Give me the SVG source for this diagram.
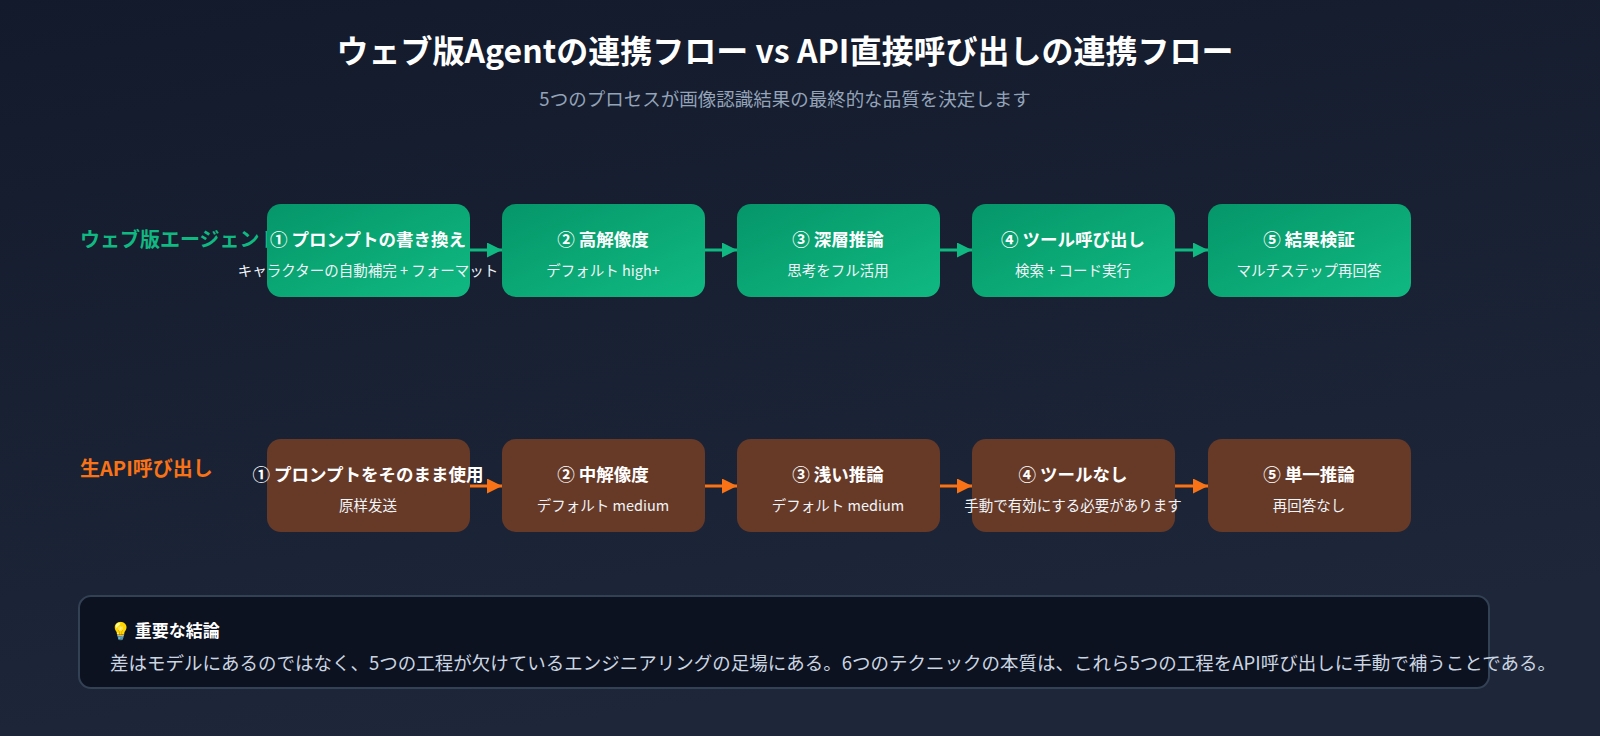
<svg xmlns="http://www.w3.org/2000/svg" width="1600" height="736" viewBox="0 0 1600 736">
<defs>
<linearGradient id="bg" x1="0" y1="0" x2="0.3" y2="1"><stop offset="0" stop-color="#121a2c"/><stop offset="1" stop-color="#1e2739"/></linearGradient>
<linearGradient id="gr" x1="0" y1="0" x2="1" y2="1"><stop offset="0" stop-color="#059669"/><stop offset="1" stop-color="#10b981"/></linearGradient>
<marker id="ag" viewBox="0 0 10 10" refX="10" refY="5" markerWidth="5" markerHeight="5" orient="auto"><path d="M0,0L10,5L0,10z" fill="#10b981"/></marker>
<marker id="ao" viewBox="0 0 10 10" refX="10" refY="5" markerWidth="5" markerHeight="5" orient="auto"><path d="M0,0L10,5L0,10z" fill="#f97316"/></marker>
<style>
text{font-family:"Noto Sans CJK JP","Liberation Sans",sans-serif;}
.g{fill:url(#gr);}
.b{fill:#673a28;}
.t{fill:#fff;font-size:17.5px;font-weight:bold;text-anchor:middle;}
.s{fill:#f1f5f9;font-size:14.5px;text-anchor:middle;}
.lg{stroke:#10b981;stroke-width:3;marker-end:url(#ag);}
.lo{stroke:#f97316;stroke-width:3;marker-end:url(#ao);}
</style>
</defs>
<rect width="1600" height="736" fill="url(#bg)"/>
<text x="785" y="63" fill="#fff" font-size="32" font-weight="bold" text-anchor="middle">ウェブ版Agentの連携フロー vs API直接呼び出しの連携フロー</text>
<text x="785" y="106" fill="#94a3b8" font-size="18.5" text-anchor="middle">5つのプロセスが画像認識結果の最終的な品質を決定します</text>
<text x="80" y="247" fill="#10b981" font-size="20" font-weight="bold">ウェブ版エージェント</text>
<text x="80" y="476" fill="#f97316" font-size="20" font-weight="bold">生API呼び出し</text>
<g id="connectors">
<line class="lg" x1="470" y1="250" x2="502" y2="250"/>
<line class="lg" x1="705" y1="250" x2="737" y2="250"/>
<line class="lg" x1="940" y1="250" x2="972" y2="250"/>
<line class="lg" x1="1175" y1="250" x2="1208" y2="250"/>
<line class="lo" x1="470" y1="486" x2="502" y2="486"/>
<line class="lo" x1="705" y1="486" x2="737" y2="486"/>
<line class="lo" x1="940" y1="486" x2="972" y2="486"/>
<line class="lo" x1="1175" y1="486" x2="1208" y2="486"/>
</g>
<g id="w1"><rect class="g" x="267" y="204" width="203" height="93" rx="14"/><text class="t" x="368" y="246">① プロンプトの書き換え</text><text class="s" x="368" y="276">キャラクターの自動補完 + フォーマット</text></g>
<g id="w2"><rect class="g" x="502" y="204" width="203" height="93" rx="14"/><text class="t" x="603" y="246">② 高解像度</text><text class="s" x="603" y="276">デフォルト high+</text></g>
<g id="w3"><rect class="g" x="737" y="204" width="203" height="93" rx="14"/><text class="t" x="838" y="246">③ 深層推論</text><text class="s" x="838" y="276">思考をフル活用</text></g>
<g id="w4"><rect class="g" x="972" y="204" width="203" height="93" rx="14"/><text class="t" x="1073" y="246">④ ツール呼び出し</text><text class="s" x="1073" y="276">検索 + コード実行</text></g>
<g id="w5"><rect class="g" x="1208" y="204" width="203" height="93" rx="14"/><text class="t" x="1309" y="246">⑤ 結果検証</text><text class="s" x="1309" y="276">マルチステップ再回答</text></g>
<g id="a1"><rect class="b" x="267" y="439" width="203" height="93" rx="14"/><text class="t" x="368" y="481">① プロンプトをそのまま使用</text><text class="s" x="368" y="511">原样发送</text></g>
<g id="a2"><rect class="b" x="502" y="439" width="203" height="93" rx="14"/><text class="t" x="603" y="481">② 中解像度</text><text class="s" x="603" y="511">デフォルト medium</text></g>
<g id="a3"><rect class="b" x="737" y="439" width="203" height="93" rx="14"/><text class="t" x="838" y="481">③ 浅い推論</text><text class="s" x="838" y="511">デフォルト medium</text></g>
<g id="a4"><rect class="b" x="972" y="439" width="203" height="93" rx="14"/><text class="t" x="1073" y="481">④ ツールなし</text><text class="s" x="1073" y="511">手動で有効にする必要があります</text></g>
<g id="a5"><rect class="b" x="1208" y="439" width="203" height="93" rx="14"/><text class="t" x="1309" y="481">⑤ 単一推論</text><text class="s" x="1309" y="511">再回答なし</text></g>
<g id="note">
<rect x="79" y="596" width="1410" height="92" rx="12" fill="#0c121f" stroke="#334155" stroke-width="2"/>
<text x="110" y="637" fill="#fff" font-size="17" font-weight="bold">💡  重要な結論</text>
<text x="110" y="670" fill="#cbd5e1" font-size="18.5">差はモデルにあるのではなく、5つの工程が欠けているエンジニアリングの足場にある。6つのテクニックの本質は、これら5つの工程をAPI呼び出しに手動で補うことである。</text>
</g>
</svg>
